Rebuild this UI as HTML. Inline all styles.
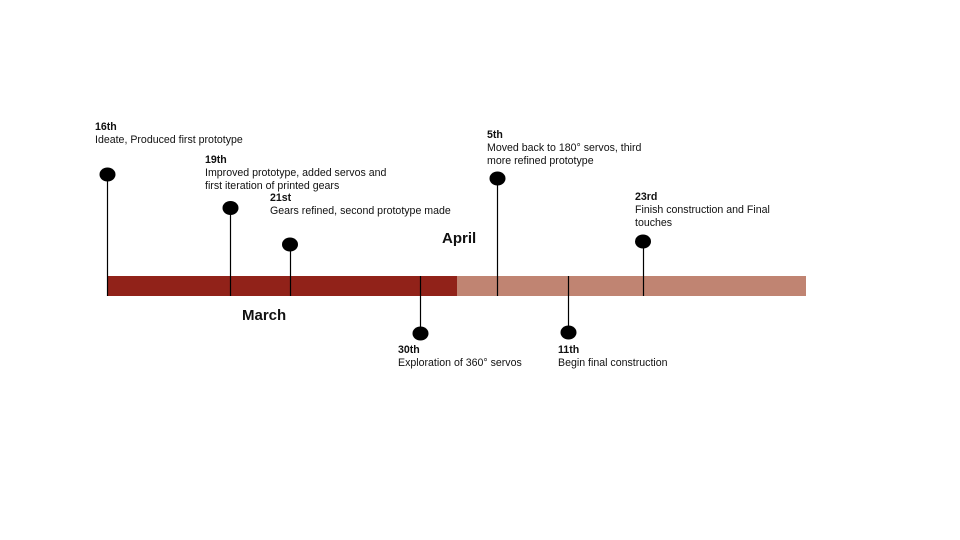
<!DOCTYPE html>
<html><head><style>
body{margin:0;width:960px;height:540px;background:#fff;position:relative;overflow:hidden;font-family:"Liberation Sans",sans-serif;color:#111}
.t{position:absolute;font-size:10.6px;line-height:13px;white-space:nowrap}
.t b{font-size:10.6px}
.m{position:absolute;font-weight:bold;font-size:15px}
</style></head><body>
<svg width="960" height="540" style="position:absolute;left:0;top:0">
<rect x="107" y="276" width="350" height="20" fill="#912219"/>
<rect x="457" y="276" width="349" height="20" fill="#c08472"/>
<g stroke="#000" stroke-width="1.2">
<line x1="107.5" y1="174" x2="107.5" y2="296"/>
<line x1="230.5" y1="208" x2="230.5" y2="296"/>
<line x1="290.5" y1="244" x2="290.5" y2="296"/>
<line x1="420.5" y1="276" x2="420.5" y2="333"/>
<line x1="497.5" y1="178" x2="497.5" y2="296"/>
<line x1="568.5" y1="276" x2="568.5" y2="332"/>
<line x1="643.5" y1="241" x2="643.5" y2="296"/>
</g>
<g fill="#000">
<ellipse cx="107.5" cy="174.5" rx="8" ry="7"/>
<ellipse cx="230.5" cy="208" rx="8" ry="7"/>
<ellipse cx="290" cy="244.5" rx="8" ry="7"/>
<ellipse cx="420.5" cy="333.5" rx="8" ry="7"/>
<ellipse cx="497.5" cy="178.5" rx="8" ry="7"/>
<ellipse cx="568.5" cy="332.5" rx="8" ry="7"/>
<ellipse cx="643" cy="241.5" rx="8" ry="7"/>
</g>
</svg>
<div class="t" style="left:95px;top:121px"><b>16th</b><br>Ideate, Produced first prototype</div>
<div class="t" style="left:205px;top:154px"><b>19th</b><br>Improved prototype, added servos and<br>first iteration of printed gears</div>
<div class="t" style="left:270px;top:192px"><b>21st</b><br>Gears refined, second prototype made</div>
<div class="t" style="left:398px;top:344px"><b>30th</b><br>Exploration of 360° servos</div>
<div class="t" style="left:487px;top:129px"><b>5th</b><br>Moved back to 180° servos, third<br>more refined prototype</div>
<div class="t" style="left:558px;top:344px"><b>11th</b><br>Begin final construction</div>
<div class="t" style="left:635px;top:191px"><b>23rd</b><br>Finish construction and Final<br>touches</div>
<div class="m" style="left:242px;top:307px">March</div>
<div class="m" style="left:442px;top:230px">April</div>
</body></html>
